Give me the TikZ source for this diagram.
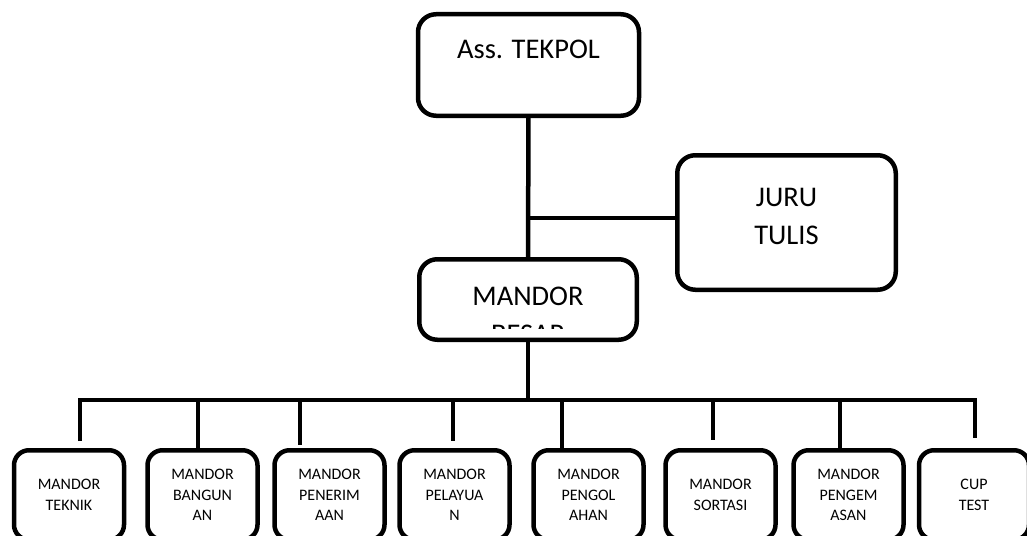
\documentclass[tikz,border=0pt]{standalone}
\usepackage{fontspec}
\setmainfont{Carlito}

\begin{document}
\begin{tikzpicture}[x=1pt, y=-1pt,
  box/.style={draw, line width=4.5pt, rounded corners=18pt, fill=white, inner sep=0pt, align=center},
  bigtext/.style={font=\fontsize{28.5}{38}\selectfont},
  smalltext/.style={font=\fontsize{16}{20.5}\selectfont},
  lowbox/.style={box, smalltext, rounded corners=15pt, minimum width=\boxwidth, minimum height=\boxheight},
  link/.style={line width=4.5pt}]

\useasboundingbox (0,0) rectangle (1027,535);

% Define the size of the lower boxes
\def\boxwidth{110pt}
\def\boxheight{89.5pt}

% Draw Ass. TEKPOL box
\node[box, bigtext, minimum width=221pt, minimum height=101.5pt, text height=18pt, text depth=30pt] (tekpol) at (528.5,65) {Ass. TEKPOL};

% Draw JURU TULIS box
\node[box, bigtext, minimum width=218.5pt, minimum height=134.5pt] (juru) at (786.5,222.5) {JURU\\TULIS\\[-26pt]};

% Draw MANDOR BESAR box, second line cut off by the box
\node[box, minimum width=217.5pt, minimum height=80.5pt] (besar) at (528,299.5) {};
\begin{scope}
\clip (422,262) rectangle (634,328);
\node[bigtext, align=center] (besartext) at (528,315.5) {MANDOR\\BESAR};
\end{scope}

% Draw the lower row of boxes
\node[lowbox] (b1) at (69,495) {MANDOR\\TEKNIK};
\node[lowbox] (b2) at (202.5,495) {MANDOR\\BANGUN\\AN};
\node[lowbox] (b3) at (329.5,495) {MANDOR\\PENERIM\\AAN};
\node[lowbox] (b4) at (454.5,495) {MANDOR\\PELAYUA\\N};
\node[lowbox] (b5) at (588.5,495) {MANDOR\\PENGOL\\AHAN};
\node[lowbox] (b6) at (720.5,495) {MANDOR\\SORTASI};
\node[lowbox] (b7) at (848.5,495) {MANDOR\\PENGEM\\ASAN};
\node[lowbox] (b8) at (974,495) {CUP\\TEST};

% Connect the upper boxes
\draw[link] (tekpol) -- (besar);
\coordinate (jurutap) at (527,218);
\draw[link] (jurutap) -- (jurutap -| juru.west);

% Bus line to the lower row
\coordinate (busleft) at (80,400);
\coordinate (busright) at (975,400);
\draw[link] (besar) -- (besar.south |- busleft);
\draw[link, shorten <=7pt, shorten >=10pt] (busleft |- b1.north) -- (busleft) -- (busright) -- (busright |- b8.north);

% Drops from the bus
\coordinate (tap2) at (198,400);
\draw[link] (tap2) -- (tap2 |- b2.north);
\coordinate (tap3) at (300,400);
\draw[link, shorten >=3pt] (tap3) -- (tap3 |- b3.north);
\coordinate (tap4) at (453,400);
\draw[link, shorten >=7pt] (tap4) -- (tap4 |- b4.north);
\coordinate (tap5) at (562,400);
\draw[link] (tap5) -- (tap5 |- b5.north);
\coordinate (tap6) at (713,400);
\draw[link, shorten >=8pt] (tap6) -- (tap6 |- b6.north);
\coordinate (tap7) at (840,398);
\draw[link] (tap7) -- (tap7 |- b7.north);

\end{tikzpicture}
\end{document}
